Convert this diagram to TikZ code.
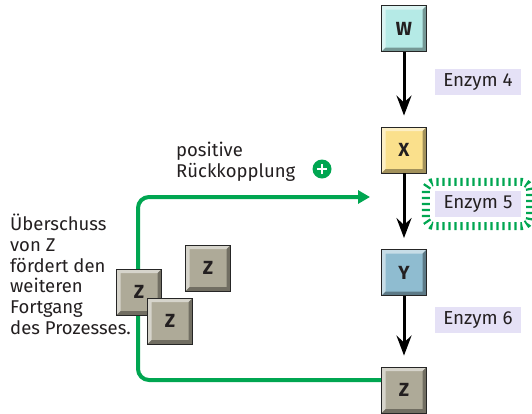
\documentclass[tikz,border=0pt]{standalone}
\usepackage{fontspec}
\setmainfont{Fira Sans}
\usetikzlibrary{arrows.meta}

\definecolor{txt}{HTML}{231F20}
\definecolor{wfill}{HTML}{B5EAE6}
\definecolor{xfill}{HTML}{FAE08C}
\definecolor{yfill}{HTML}{8FBCD0}
\definecolor{zfill}{HTML}{AEAA98}
\definecolor{enzfill}{HTML}{E5E1F6}
\definecolor{fbgreen}{HTML}{00A651}

\tikzset{
  mol/.style={draw=black!85, line width=0.9pt, fill=#1, minimum width=45pt,
    minimum height=46pt, inner sep=0pt, text=txt,
    font=\fontsize{19}{19}\selectfont\bfseries,
    path picture={
      \fill[white,opacity=.5] (path picture bounding box.north west)
        -- (path picture bounding box.north east)
        -- ([shift={(-4pt,-4pt)}]path picture bounding box.north east)
        -- ([shift={(4pt,-4pt)}]path picture bounding box.north west)
        -- ([shift={(4pt,4pt)}]path picture bounding box.south west)
        -- (path picture bounding box.south west) -- cycle;
      \fill[black,opacity=.35] (path picture bounding box.south east)
        -- (path picture bounding box.south west)
        -- ([shift={(4pt,4pt)}]path picture bounding box.south west)
        -- ([shift={(-4pt,4pt)}]path picture bounding box.south east)
        -- ([shift={(-4pt,-4pt)}]path picture bounding box.north east)
        -- (path picture bounding box.north east) -- cycle;
    }},
  enzym/.style={fill=enzfill, text=txt, minimum width=86pt, minimum height=26pt,
    inner sep=0pt, font=\fontsize{18.8}{20}\selectfont},
  reaction/.style={line width=3pt, draw=black,
    -{Stealth[length=20pt,width=15pt,inset=7pt]}, shorten >=11pt},
  feedback/.style={line width=4pt, draw=fbgreen, rounded corners=11pt,
    -{Triangle[length=12pt,width=13pt]}},
  glow/.style={draw=fbgreen, line width=8pt, dash pattern=on 2.2pt off 3.8pt,
    rounded corners=9pt},
  note/.style={align=left, inner sep=0pt, text=txt,
    font=\fontsize{18.5}{20.7}\selectfont}
}

\begin{document}
\begin{tikzpicture}[x=1pt,y=-1pt]
        \useasboundingbox (0,0) rectangle (532,413);

        \node[mol=wfill] (W) at (404,28.5) {W};
        \node[mol=xfill] (X) at (404,150) {X};
        \node[mol=yfill] (Y) at (404,272.5) {Y};
        \node[mol=zfill] (Z) at (404,390) {Z};

        \node[enzym] (E4) at (478,82) {Enzym 4};
        \node[enzym] (E5) at (478,204) {Enzym 5};
        \node[enzym] (E6) at (478,320) {Enzym 6};

        \draw[reaction] (W) -- (X);
        \draw[reaction] (X) -- (Y);
        \draw[reaction] (Y) -- (Z);

        \draw[glow] ([shift={(-9pt,9pt)}]E5.north west)
          rectangle ([shift={(9pt,-9pt)}]E5.south east);

        % Rueckkopplung
        \coordinate (loop) at (138,290);
        \coordinate (target) at (370,197);
        \draw[feedback] ([yshift=10pt]Z.west) -| (loop) |- (target);

        \node[mol=zfill] (Z3) at (208,268) {Z};
        \node[mol=zfill] (Z1) at (139,292) {Z};
        \node[mol=zfill] (Z2) at (170,321) {Z};

        \node[note, anchor=north west] (fb) at (176,142)
          {positive\\Rückkopplung};
        \node[circle, fill=fbgreen, minimum size=19pt, inner sep=0pt,
          path picture={\draw[white, line width=2.6pt]
            ([xshift=-5pt]path picture bounding box.center)
            -- ([xshift=5pt]path picture bounding box.center)
            ([yshift=-5pt]path picture bounding box.center)
            -- ([yshift=5pt]path picture bounding box.center);}]
          (plus) at (322,169) {};

        \node[note, anchor=north west] (excess) at (10,214)
          {Überschuss\\von Z\\fördert den\\weiteren\\Fortgang\\des Prozesses.};
      \end{tikzpicture}
\end{document}
